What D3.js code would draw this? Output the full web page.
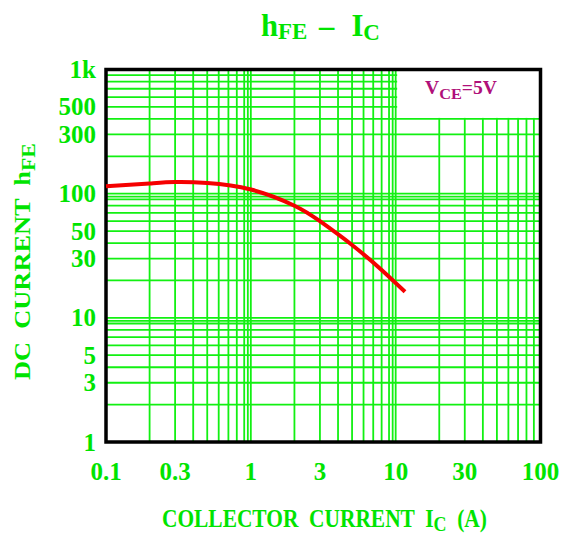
<!DOCTYPE html>
<html>
<head>
<meta charset="utf-8">
<script src="https://cdn.jsdelivr.net/npm/d3@7"></script>
<style>
  body { margin: 0; background: #fff; }
  text { font-family: "Liberation Serif", serif; font-weight: bold; }
</style>
</head>
<body>
<svg id="chart" width="573" height="541"></svg>
<script>
// curve
icValues  = [0.1, 0.2, 0.3, 0.5, 1, 2, 3, 5, 8, 11.6];
hfeValues = [115, 121, 124, 122, 108, 80, 60, 38.6, 24.3, 16.2];

xTickValues = [0.1, 0.3, 1, 3, 10, 30, 100];
xTickLabels = ['0.1', '0.3', '1', '3', '10', '30', '100'];
yTickValues = [1000, 500, 300, 100, 50, 30, 10, 5, 3, 1];
yTickLabels = ['1k', '500', '300', '100', '50', '30', '10', '5', '3', '1'];

xDecades = [0.1, 1, 10, 100];
yDecades = [1, 10, 100, 1000];
xDoubled = [1, 10];
yDoubled = [10, 100];

margin = { top: 69.5, right: 32.5, bottom: 99, left: 106 };

var green = '#00e400';
var gridGreen = '#12f012';
var magenta = '#b0107a';

document.addEventListener('DOMContentLoaded', function() {
  svg = d3.select('#chart');
  width = +svg.attr('width');
  height = +svg.attr('height');

  x = d3.scaleLog().domain([0.1, 100]).range([margin.left, width - margin.right]);
  y = d3.scaleLog().domain([1, 1000]).range([height - margin.bottom, margin.top]);

  drawGrid();
  drawCurve();
  drawLabels();
});

function minorValues(decades) {
  var out = [];
  decades.slice(0, -1).forEach(function(d) {
    for (var i = 1; i < 10; i++) out.push(+(d * i).toPrecision(3));
  });
  out.push(decades[decades.length - 1]);
  return out;
}

function drawGrid() {
  var g = svg.append('g');
  var xGrid = minorValues(xDecades);
  var yGrid = minorValues(yDecades);

  g.selectAll('line.v')
    .data(xGrid)
    .enter()
    .append('line')
    .attr('x1', d => x(d)).attr('x2', d => x(d))
    .attr('y1', y(1)).attr('y2', y(1000))
    .style('stroke', gridGreen)
    .style('stroke-width', 1.8);
  g.selectAll('line.vd')
    .data(xDoubled)
    .enter()
    .append('line')
    .attr('x1', d => x(d) - 3).attr('x2', d => x(d) - 3)
    .attr('y1', y(1)).attr('y2', y(1000))
    .style('stroke', gridGreen)
    .style('stroke-width', 1.8);

  g.selectAll('line.h')
    .data(yGrid)
    .enter()
    .append('line')
    .attr('x1', x(0.1)).attr('x2', x(100))
    .attr('y1', d => y(d)).attr('y2', d => y(d))
    .style('stroke', gridGreen)
    .style('stroke-width', 1.8);
  g.selectAll('line.hd')
    .data(yDoubled)
    .enter()
    .append('line')
    .attr('x1', x(0.1)).attr('x2', x(100))
    .attr('y1', d => y(d) + 3).attr('y2', d => y(d) + 3)
    .style('stroke', gridGreen)
    .style('stroke-width', 1.8);

  // blank box for the condition label, top right
  g.append('rect')
    .attr('x', x(10) + 1.5)
    .attr('y', y(1000))
    .attr('width', x(100) - x(10) - 1.5)
    .attr('height', y(400) - y(1000) - 1)
    .style('fill', '#fff');

  g.append('rect')
    .attr('x', x(0.1))
    .attr('y', y(1000))
    .attr('width', x(100) - x(0.1))
    .attr('height', y(1) - y(1000))
    .style('fill', 'none')
    .style('stroke', '#000')
    .style('stroke-width', 3.5);
}

function drawCurve() {
  var pts = icValues.map((v, i) => [v, hfeValues[i]]);
  var line = d3.line()
    .x(d => x(d[0]))
    .y(d => y(d[1]))
    .curve(d3.curveNatural);
  svg.append('path')
    .datum(pts)
    .style('fill', 'none')
    .style('stroke', '#f50000')
    .style('stroke-width', 4)
    .attr('d', line);
}

// squeeze / stretch a text so it spans x0..x1
function fitText(t, x0, x1, baseline) {
  var w = t.node().getBBox().width;
  t.attr('transform', `translate(${x0},${baseline}) scale(${(x1 - x0) / w},1)`);
}

function drawLabels() {
  svg.selectAll('text.ytick')
    .data(yTickValues)
    .enter()
    .append('text')
    .attr('x', 96)
    .attr('y', d => y(d))
    .attr('dy', '0.34em')
    .attr('text-anchor', 'end')
    .style('font-size', '25px')
    .style('fill', green)
    .text((d, i) => yTickLabels[i]);

  svg.selectAll('text.xtick')
    .data(xTickValues)
    .enter()
    .append('text')
    .attr('x', d => x(d))
    .attr('y', 480)
    .attr('text-anchor', 'middle')
    .style('font-size', '25px')
    .style('fill', green)
    .text((d, i) => xTickLabels[i]);

  // title
  var title = svg.append('text').style('fill', green).style('font-size', '32px');
  title.append('tspan').text('h');
  title.append('tspan').attr('dy', 3).style('font-size', '24px').text('FE');
  title.append('tspan').attr('dy', -3).attr('dx', 12).text('\u2013');
  title.append('tspan').attr('dx', 18).text('I');
  title.append('tspan').attr('dy', 4).style('font-size', '24px').text('C');
  fitText(title, 261, 380, 36);

  // x axis title
  var xt = svg.append('text').style('fill', green).style('font-size', '25px');
  xt.append('tspan').text('COLLECTOR  CURRENT  I');
  xt.append('tspan').attr('dy', 4).style('font-size', '21px').text('C');
  xt.append('tspan').attr('dy', -4).text('  (A)');
  xt.attr('xml:space', 'preserve');
  fitText(xt, 162, 487, 527);

  // y axis title
  var yt = svg.append('text').style('fill', green).style('font-size', '23px')
    .attr('xml:space', 'preserve');
  yt.append('tspan').text('DC  CURRENT  h');
  yt.append('tspan').attr('dy', 5).style('font-size', '19px').text('FE');
  var yw = yt.node().getBBox().width;
  yt.attr('transform', `translate(29.5,380) rotate(-90) scale(${(380 - 143) / yw},1)`);

  // condition label
  var vce = svg.append('text').style('fill', magenta).style('font-size', '18px');
  vce.append('tspan').text('V');
  vce.append('tspan').attr('dy', 5).style('font-size', '15px').text('CE');
  vce.append('tspan').attr('dy', -5).text('=5V');
  fitText(vce, 425, 497, 93.5);
}
</script>
</body>
</html>
